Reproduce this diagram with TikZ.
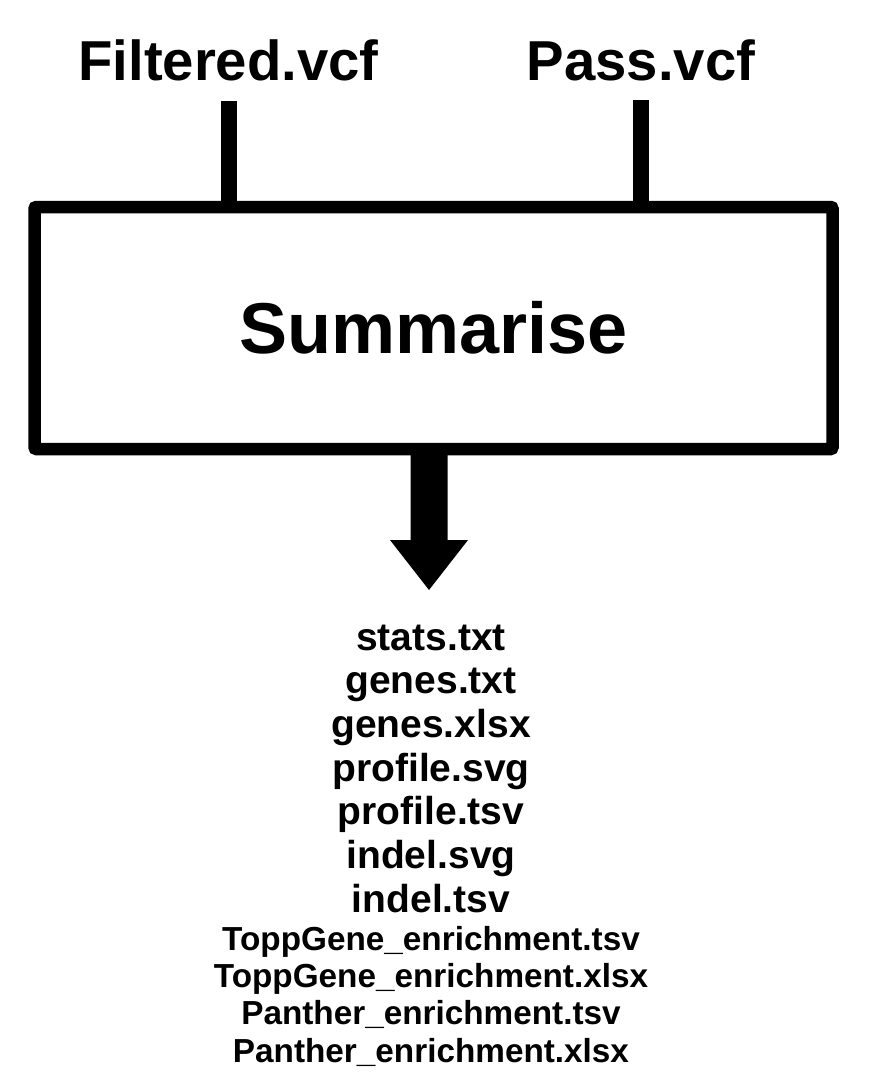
\documentclass[tikz,border=0pt]{standalone}
\usepackage{fontspec}
\setmainfont{Liberation Sans}
\begin{document}
\begin{tikzpicture}[x=1pt,y=-1pt,
  lbl/.style={font=\bfseries\fontsize{56.3}{60}\selectfont, inner sep=0pt, anchor=base},
  feed/.style={line width=16pt},
  outa/.style={font=\bfseries\fontsize{39}{44}\selectfont, inner sep=0pt, anchor=base},
  outb/.style={font=\bfseries\fontsize{33.3}{38}\selectfont, inner sep=0pt, anchor=base},
  procbox/.style={draw, line width=12.5pt, minimum width=798pt, minimum height=242pt,
    inner sep=0pt, rounded corners=2pt, font=\bfseries\fontsize{72}{80}\selectfont}]
\useasboundingbox[fill=white] (0,0) rectangle (868,1087);
\node[procbox] (box) at (433.5,328) {Summarise};
\node[lbl] (filt) at (228.5,80) {Filtered.vcf};
\node[lbl] (pass) at (641,80) {Pass.vcf};
\draw[feed] ([yshift=-20pt]filt.south) -- (filt.south |- box.north);
\draw[feed] ([yshift=-19pt]pass.south) -- (pass.south |- box.north);
\coordinate (tip) at (429,590);
\coordinate (abase) at (box.south -| tip);
\fill ([shift={(-18.5,-3)}]abase) -- ++(0,87.75) -- ++(-20.5,0) -- (tip) -- ++(39,-50) -- ++(-20.5,0) -- ++(0,-87.75) -- cycle;
\node[outa] (o1) at (431,650) {stats.txt};
\node[outa] (o2) at (431,693.7) {genes.txt};
\node[outa] (o3) at (431,737.3) {genes.xlsx};
\node[outa] (o4) at (431,781) {profile.svg};
\node[outa] (o5) at (431,824.7) {profile.tsv};
\node[outa] (o6) at (431,868.3) {indel.svg};
\node[outa] (o7) at (431,912) {indel.tsv};
\node[outb] (o8) at (431,950) {ToppGene\_enrichment.tsv};
\node[outb] (o9) at (431,987.3) {ToppGene\_enrichment.xlsx};
\node[outb] (o10) at (431,1024.7) {Panther\_enrichment.tsv};
\node[outb] (o11) at (431,1062) {Panther\_enrichment.xlsx};
\end{tikzpicture}
\end{document}
